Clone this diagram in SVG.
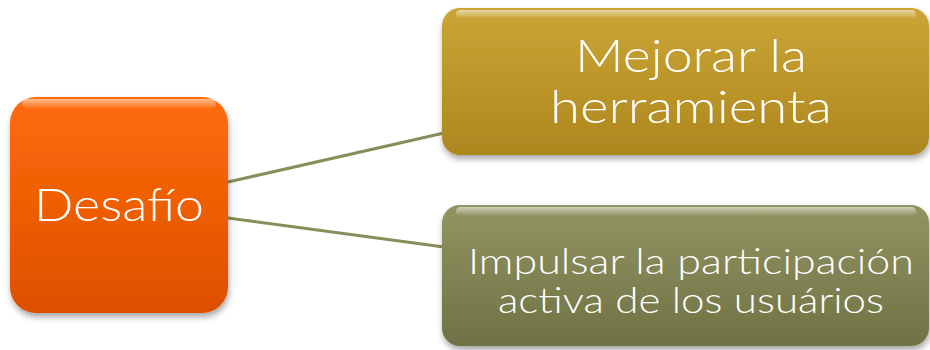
<svg xmlns="http://www.w3.org/2000/svg" width="930" height="350" viewBox="0 0 930 350">
  <defs>
    <linearGradient id="gOrange" x1="0" y1="0" x2="0" y2="1">
      <stop offset="0" stop-color="#ff6c0a"/>
      <stop offset="1" stop-color="#dd4f00"/>
    </linearGradient>
    <linearGradient id="gGold" x1="0" y1="0" x2="0" y2="1">
      <stop offset="0" stop-color="#cca536"/>
      <stop offset="1" stop-color="#ad871e"/>
    </linearGradient>
    <linearGradient id="gOlive" x1="0" y1="0" x2="0" y2="1">
      <stop offset="0" stop-color="#929462"/>
      <stop offset="1" stop-color="#6f7244"/>
    </linearGradient>
    <linearGradient id="gloss" x1="0" y1="0" x2="0" y2="1">
      <stop offset="0" stop-color="#ffffff" stop-opacity="0.55"/>
      <stop offset="1" stop-color="#ffffff" stop-opacity="0"/>
    </linearGradient>
    <filter id="shadow" x="-10%" y="-10%" width="120%" height="130%">
      <feGaussianBlur in="SourceAlpha" stdDeviation="3"/>
      <feOffset dx="1" dy="4" result="b"/>
      <feComponentTransfer><feFuncA type="linear" slope="0.35"/></feComponentTransfer>
      <feMerge><feMergeNode/><feMergeNode in="SourceGraphic"/></feMerge>
    </filter>
  </defs>
  <style>
    .lbl { font-family: "Lato", "DejaVu Sans", "Liberation Sans", sans-serif; font-weight: 300; fill: #ffffff; text-anchor: middle; }
    .conn { stroke: #8a8d5a; stroke-width: 3; fill: none; }
    .gl { fill: url(#gloss); }
  </style>
  <rect width="930" height="350" fill="#ffffff"/>
  <g id="connectors">
    <line class="conn" x1="228" y1="182" x2="444" y2="133"/>
    <line class="conn" x1="228" y1="218" x2="444" y2="247"/>
  </g>
  <g id="desafio">
    <rect x="10" y="97" width="218" height="216" rx="26" fill="url(#gOrange)" filter="url(#shadow)"/>
    <rect x="22" y="99" width="194" height="10" rx="5" class="gl"/>
    <text class="lbl" x="119" y="221" font-size="46" textLength="170" lengthAdjust="spacingAndGlyphs">Desafío</text>
  </g>
  <g id="mejorar">
    <rect x="442" y="8" width="487" height="147" rx="18" fill="url(#gGold)" filter="url(#shadow)"/>
    <rect x="456" y="10" width="460" height="9" rx="4.5" class="gl"/>
    <text class="lbl" x="691" y="72" font-size="45" textLength="232" lengthAdjust="spacingAndGlyphs">Mejorar la</text>
    <text class="lbl" x="691" y="123" font-size="45" textLength="282" lengthAdjust="spacingAndGlyphs">herramienta</text>
  </g>
  <g id="impulsar">
    <rect x="442" y="205" width="487" height="141" rx="18" fill="url(#gOlive)" filter="url(#shadow)"/>
    <rect x="456" y="207" width="460" height="9" rx="4.5" class="gl"/>
    <text class="lbl" x="691" y="274" font-size="35" textLength="446" lengthAdjust="spacingAndGlyphs">Impulsar la participación</text>
    <text class="lbl" x="691" y="313" font-size="35" textLength="386" lengthAdjust="spacingAndGlyphs">activa de los usuários</text>
  </g>
</svg>
